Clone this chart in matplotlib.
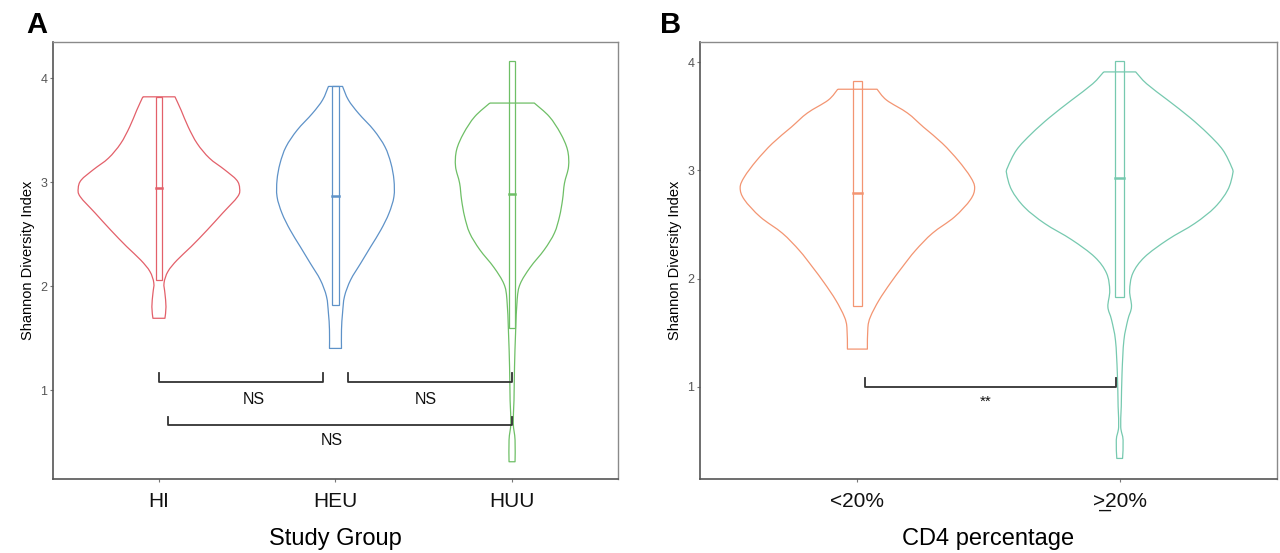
import numpy as np
import matplotlib
matplotlib.use("Agg")
import matplotlib.pyplot as plt
from matplotlib.patches import Rectangle, PathPatch
from matplotlib.path import Path

plt.rcParams['font.family'] = ['Liberation Sans', 'DejaVu Sans']

# ---- panel A data ----
groups_a = ['HI', 'HEU', 'HUU']
colors_a = ['#E3606A', '#5E92C8', '#6EBF66']

# violin outlines: y levels (top -> bottom) and half widths, in data units
hi_y = [3.82, 3.69, 3.53, 3.37, 3.23, 3.12, 3.02, 2.94, 2.86, 2.70, 2.54, 2.38, 2.25, 2.14, 2.03, 1.93, 1.80, 1.69]
hi_w = [0.091, 0.126, 0.166, 0.217, 0.286, 0.371, 0.44, 0.457, 0.446, 0.36, 0.274, 0.183, 0.103, 0.051, 0.029, 0.034, 0.04, 0.034]
heu_y = [3.92, 3.79, 3.66, 3.50, 3.34, 3.18, 3.02, 2.86, 2.70, 2.54, 2.38, 2.22, 2.06, 1.90, 1.74, 1.58, 1.40]
heu_w = [0.04, 0.073, 0.131, 0.217, 0.28, 0.314, 0.331, 0.331, 0.303, 0.257, 0.2, 0.143, 0.086, 0.051, 0.04, 0.034, 0.034]
huu_y = [3.76, 3.63, 3.47, 3.31, 3.15, 2.99, 2.83, 2.67, 2.51, 2.35, 2.18, 2.02, 1.87, 1.55, 1.22, 0.90, 0.68, 0.52, 0.31]
huu_w = [0.126, 0.211, 0.274, 0.314, 0.32, 0.297, 0.286, 0.269, 0.24, 0.183, 0.103, 0.046, 0.029, 0.02, 0.014, 0.011, 0.007, 0.017, 0.017]

# narrow boxes: lower, upper, median
box_lo_a = [2.06, 1.82, 1.60]
box_hi_a = [3.82, 3.92, 4.16]
box_med_a = [2.94, 2.87, 2.89]

# significance brackets: x1, x2, y, label
brk_a = [(1.0, 1.93, 1.08, 'NS'), (2.07, 3.0, 1.08, 'NS'), (1.05, 3.0, 0.66, 'NS')]
brk_a_text = [(1.54, 0.91), (2.51, 0.91), (1.98, 0.51)]

# ---- panel B data ----
groups_b = ['<20%', '>\u033220%']
colors_b = ['#F39572', '#76C9AF']
lt_y = [3.75, 3.65, 3.53, 3.40, 3.25, 3.09, 2.94, 2.84, 2.73, 2.57, 2.42, 2.26, 2.11, 1.96, 1.80, 1.65, 1.55, 1.35]
lt_w = [0.075, 0.111, 0.191, 0.252, 0.324, 0.385, 0.431, 0.447, 0.431, 0.37, 0.286, 0.221, 0.172, 0.126, 0.082, 0.05, 0.04, 0.038]
ge_y = [3.91, 3.80, 3.65, 3.49, 3.34, 3.19, 3.03, 2.97, 2.82, 2.66, 2.51, 2.36, 2.20, 2.05, 1.89, 1.74, 1.62, 1.43, 1.13, 0.82, 0.63, 0.51, 0.34]
ge_w = [0.061, 0.103, 0.183, 0.267, 0.336, 0.393, 0.427, 0.431, 0.412, 0.363, 0.286, 0.183, 0.095, 0.05, 0.038, 0.045, 0.031, 0.016, 0.009, 0.006, 0.004, 0.013, 0.011]
box_lo_b = [1.75, 1.83]
box_hi_b = [3.83, 4.01]
box_med_b = [2.79, 2.93]
brk_b = [(1.03, 1.985, 1.0, '**')]
brk_b_text = [(1.49, 0.86)]


def smooth_side(pts):
    # catmull-rom through the read points, as bezier segments
    p = np.vstack([pts[0], pts, pts[-1]])
    verts, codes = [], []
    for i in range(1, len(p) - 2):
        p0, p1, p2, p3 = p[i - 1], p[i], p[i + 1], p[i + 2]
        verts += [p1 + (p2 - p0) / 6, p2 - (p3 - p1) / 6, p2]
        codes += [Path.CURVE4] * 3
    return verts, codes


def draw_violin(ax, pos, ys, ws, color):
    ys = np.array(ys)
    ws = np.array(ws)
    left = np.column_stack([pos - ws, ys])
    right = np.column_stack([pos + ws, ys])[::-1]
    verts, codes = [left[0]], [Path.MOVETO]
    v, c = smooth_side(left)
    verts += v; codes += c
    verts.append(right[0]); codes.append(Path.LINETO)
    v, c = smooth_side(right)
    verts += v; codes += c
    verts.append(left[0]); codes.append(Path.LINETO)
    ax.add_patch(PathPatch(Path(verts, codes), fill=False, ec=color, lw=0.9, joinstyle='round'))


def draw_box(ax, pos, lo, hi, med, color, hw):
    ax.add_patch(Rectangle((pos - hw, lo), 2 * hw, hi - lo, fill=False, ec=color, lw=0.9))
    ax.plot([pos - hw, pos + hw], [med, med], color=color, lw=1.8)


def draw_bracket(ax, x1, x2, y, tip):
    ax.plot([x1, x1, x2, x2], [y + tip, y, y, y + tip], color='#333333', lw=1.3)


def style_axes(ax, ylim, ntick):
    ax.set_xlim(0.4, ntick + 0.6)
    ax.set_ylim(*ylim)
    ax.set_yticks([1, 2, 3, 4])
    ax.set_xticks(range(1, ntick + 1))
    for s in ['top', 'right']:
        ax.spines[s].set_color('#8a8a8a')
        ax.spines[s].set_linewidth(1.0)
    for s in ['left', 'bottom']:
        ax.spines[s].set_color('#555555')
        ax.spines[s].set_linewidth(1.2)
    ax.tick_params(axis='y', length=2.5, width=0.8, color='#777777', labelsize=9,
                   labelcolor='#555555', pad=1.5)
    ax.tick_params(axis='x', length=2.5, width=0.8, color='#777777', labelsize=15,
                   labelcolor='#111111', pad=7)
    ax.set_ylabel('Shannon Diversity Index', fontsize=10.5, labelpad=4)


fig = plt.figure(figsize=(12.8, 5.53), dpi=100)

# panel A
ax1 = fig.add_axes([0.0414, 0.1338, 0.4414, 0.790])
violins_a = [(hi_y, hi_w), (heu_y, heu_w), (huu_y, huu_w)]
for i, (vy, vw) in enumerate(violins_a):
    draw_violin(ax1, i + 1, vy, vw, colors_a[i])
    draw_box(ax1, i + 1, box_lo_a[i], box_hi_a[i], box_med_a[i], colors_a[i], 0.018)
for (x1, x2, y, lab), (tx, ty) in zip(brk_a, brk_a_text):
    draw_bracket(ax1, x1, x2, y, 0.085)
    ax1.text(tx, ty, lab, ha='center', va='center', fontsize=11.5, color='#111111')
style_axes(ax1, (0.144, 4.346), 3)
ax1.set_xticklabels(groups_a)
ax1.set_xlabel('Study Group', fontsize=17, labelpad=12)

# panel B
ax2 = fig.add_axes([0.5469, 0.1338, 0.4508, 0.790])
violins_b = [(lt_y, lt_w), (ge_y, ge_w)]
for i, (vy, vw) in enumerate(violins_b):
    draw_violin(ax2, i + 1, vy, vw, colors_b[i])
    draw_box(ax2, i + 1, box_lo_b[i], box_hi_b[i], box_med_b[i], colors_b[i], 0.016)
for (x1, x2, y, lab), (tx, ty) in zip(brk_b, brk_b_text):
    draw_bracket(ax2, x1, x2, y, 0.08)
    ax2.text(tx, ty, lab, ha='center', va='center', fontsize=11, color='#111111')
style_axes(ax2, (0.150, 4.185), 2)
ax2.set_xticklabels(groups_b)
ax2.set_xlabel('CD4 percentage', fontsize=17, labelpad=12)

fig.text(26 / 1280, 1 - 33 / 553, 'A', fontsize=21, fontweight='bold', va='baseline')
fig.text(660 / 1280, 1 - 33 / 553, 'B', fontsize=21, fontweight='bold', va='baseline')

fig.savefig('out.png', dpi=100, facecolor='white')
